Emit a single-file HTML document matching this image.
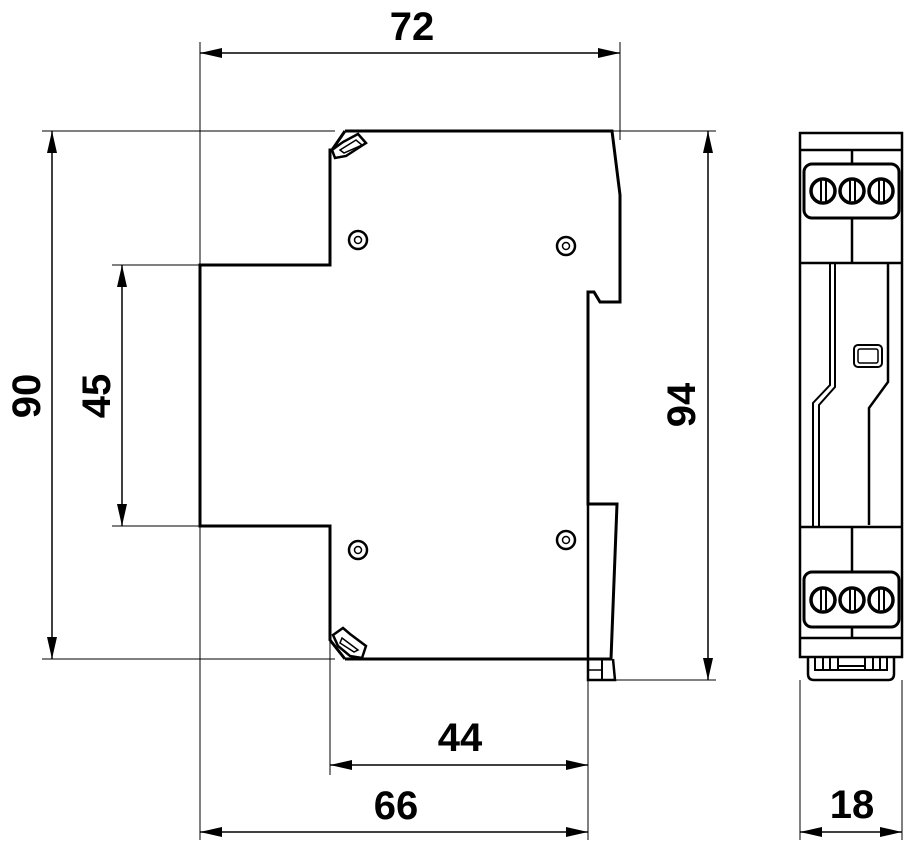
<!DOCTYPE html>
<html><head><meta charset="utf-8"><style>
html,body{margin:0;padding:0;background:#fff;}
svg{display:block;}
text{font-family:"Liberation Sans",Arial,sans-serif;font-weight:bold;font-size:40px;fill:#000;}
</style></head><body>
<svg width="914" height="850" viewBox="0 0 914 850" xmlns="http://www.w3.org/2000/svg">
<defs>
<marker id="a" markerWidth="22" markerHeight="10" refX="22" refY="5" orient="auto" markerUnits="userSpaceOnUse"><path d="M0,0 L22,5 L0,10 z" fill="#000"/></marker>
<marker id="b" markerWidth="22" markerHeight="10" refX="0" refY="5" orient="auto" markerUnits="userSpaceOnUse"><path d="M22,0 L0,5 L22,10 z" fill="#000"/></marker>
</defs>
<!-- extension lines -->
<g stroke="#000" stroke-width="1" fill="none">
<line x1="200" y1="42" x2="200" y2="840"/>
<line x1="620" y1="42" x2="620" y2="140"/>
<line x1="42" y1="131" x2="335" y2="131"/>
<line x1="42" y1="659" x2="335" y2="659"/>
<line x1="112" y1="265" x2="200" y2="265"/>
<line x1="112" y1="526" x2="200" y2="526"/>
<line x1="612" y1="131" x2="716" y2="131"/>
<line x1="615" y1="680" x2="716" y2="680"/>
<line x1="330" y1="526" x2="330" y2="775"/>
<line x1="588" y1="660" x2="588" y2="840"/>
<line x1="800" y1="680" x2="800" y2="840"/>
<line x1="902" y1="680" x2="902" y2="840"/>
</g>
<!-- dimension lines -->
<g stroke="#000" stroke-width="1.5" fill="none">
<line x1="200" y1="53" x2="620" y2="53" marker-start="url(#b)" marker-end="url(#a)"/>
<line x1="52" y1="131" x2="52" y2="659" marker-start="url(#b)" marker-end="url(#a)"/>
<line x1="122" y1="265" x2="122" y2="526" marker-start="url(#b)" marker-end="url(#a)"/>
<line x1="708" y1="131" x2="708" y2="680" marker-start="url(#b)" marker-end="url(#a)"/>
<line x1="330" y1="765" x2="588" y2="765" marker-start="url(#b)" marker-end="url(#a)"/>
<line x1="200" y1="832" x2="588" y2="832" marker-start="url(#b)" marker-end="url(#a)"/>
<line x1="800" y1="832" x2="902" y2="832" marker-start="url(#b)" marker-end="url(#a)"/>
</g>
<text x="412" y="40" text-anchor="middle">72</text>
<text x="460" y="751" text-anchor="middle">44</text>
<text x="396" y="819" text-anchor="middle">66</text>
<text x="852" y="818" text-anchor="middle">18</text>
<text transform="translate(40,396) rotate(-90)" text-anchor="middle">90</text>
<text transform="translate(110,396) rotate(-90)" text-anchor="middle">45</text>
<text transform="translate(695,405) rotate(-90)" text-anchor="middle">94</text>
<!-- main body -->
<g stroke="#000" stroke-width="3" fill="none" stroke-linejoin="miter">
<path d="M345,131 L612,131 L620,195 L620,302 L600,302 L594,292 L588,292 L588,504 L617,504 L611,659 L345,659"/>
<path d="M345,131 L332,150 L330,150 L330,265 L200,265 L200,526 L330,526 L330,640 L345,659"/>
<path d="M588,504 L588,680 L615,680 L613,659" stroke-width="2.5"/>
<line x1="588" y1="670" x2="602" y2="670" stroke-width="1.5"/>
<line x1="602" y1="659" x2="602" y2="680" stroke-width="2"/>
</g>
<!-- clips -->
<g stroke="#000" stroke-width="2.5" fill="#fff">
<path d="M332,150 L343,142 L358,134 L366,143 L346,156 L335,158 z"/>
<path d="M340,150 L356,140 L362,145 L344,153 z" stroke-width="1.5"/>
<path d="M333,635 L343,628 L350,634 L366,646 L362,658 L350,656 L338,646 z"/>
<path d="M342,638 L358,650 L354,652 L340,643 z" stroke-width="1.5"/>
</g>
<!-- holes -->
<g stroke="#000" stroke-width="2.5" fill="none">
<circle cx="358" cy="240" r="9"/><circle cx="358" cy="240" r="3.5" stroke-width="1.5"/>
<circle cx="566" cy="246" r="9"/><circle cx="566" cy="246" r="3.5" stroke-width="1.5"/>
<circle cx="358" cy="550" r="9"/><circle cx="358" cy="550" r="3.5" stroke-width="1.5"/>
<circle cx="566" cy="540" r="9"/><circle cx="566" cy="540" r="3.5" stroke-width="1.5"/>
</g>
<!-- side view -->
<g stroke="#000" stroke-width="2.5" fill="none">
<rect x="800" y="133" width="102" height="524"/>
<line x1="800" y1="150" x2="902" y2="150"/>
<line x1="800" y1="263" x2="902" y2="263"/>
<line x1="800" y1="527" x2="902" y2="527"/>
<line x1="800" y1="638" x2="902" y2="638"/>
<line x1="852" y1="150" x2="852" y2="263"/>
<line x1="852" y1="527" x2="852" y2="638"/>
<rect x="804" y="164" width="95" height="54" rx="8" fill="#fff" stroke-width="3"/>
<rect x="804" y="572" width="95" height="55" rx="8" fill="#fff" stroke-width="3"/>
<g stroke-width="3.5" fill="#fff">
<circle cx="823" cy="191" r="12"/><circle cx="852" cy="191" r="12"/><circle cx="881" cy="191" r="12"/>
<circle cx="823" cy="600" r="12"/><circle cx="852" cy="600" r="12"/><circle cx="881" cy="600" r="12"/>
</g>
<g stroke-width="2">
<line x1="821" y1="181" x2="821" y2="201"/><line x1="826" y1="181" x2="826" y2="201"/>
<line x1="850" y1="181" x2="850" y2="201"/><line x1="855" y1="181" x2="855" y2="201"/>
<line x1="879" y1="181" x2="879" y2="201"/><line x1="884" y1="181" x2="884" y2="201"/>
<line x1="821" y1="590" x2="821" y2="610"/><line x1="826" y1="590" x2="826" y2="610"/>
<line x1="850" y1="590" x2="850" y2="610"/><line x1="855" y1="590" x2="855" y2="610"/>
<line x1="879" y1="590" x2="879" y2="610"/><line x1="884" y1="590" x2="884" y2="610"/>
</g>
<path d="M830,263 L830,385 L813,403 L813,526" stroke-width="2"/>
<path d="M835,263 L835,387 L819,405 L819,526" stroke-width="2"/>
<path d="M832,263 L852,263" stroke-width="2"/>
<path d="M888,263 L888,382 L869,408 L869,525" stroke-width="2.5"/>
<rect x="854" y="345" width="28" height="22" rx="4" stroke-width="2"/>
<rect x="858" y="349" width="20" height="14" rx="2" stroke-width="1.5"/>
<path d="M808,657 L808,674 Q808,680 814,680 L888,680 Q894,680 894,674 L894,657"/>
<path d="M815,657 L815,670 L887,670 L887,657" stroke-width="2"/>
<line x1="823" y1="657" x2="823" y2="670" stroke-width="2"/>
<line x1="830" y1="657" x2="830" y2="670" stroke-width="2"/>
<line x1="838" y1="657" x2="838" y2="670" stroke-width="2"/>
<line x1="865" y1="657" x2="865" y2="670" stroke-width="2"/>
<line x1="873" y1="657" x2="873" y2="670" stroke-width="2"/>
<line x1="880" y1="657" x2="880" y2="670" stroke-width="2"/>
<line x1="838" y1="666" x2="865" y2="666" stroke-width="2"/>
</g>
</svg>
</body></html>
